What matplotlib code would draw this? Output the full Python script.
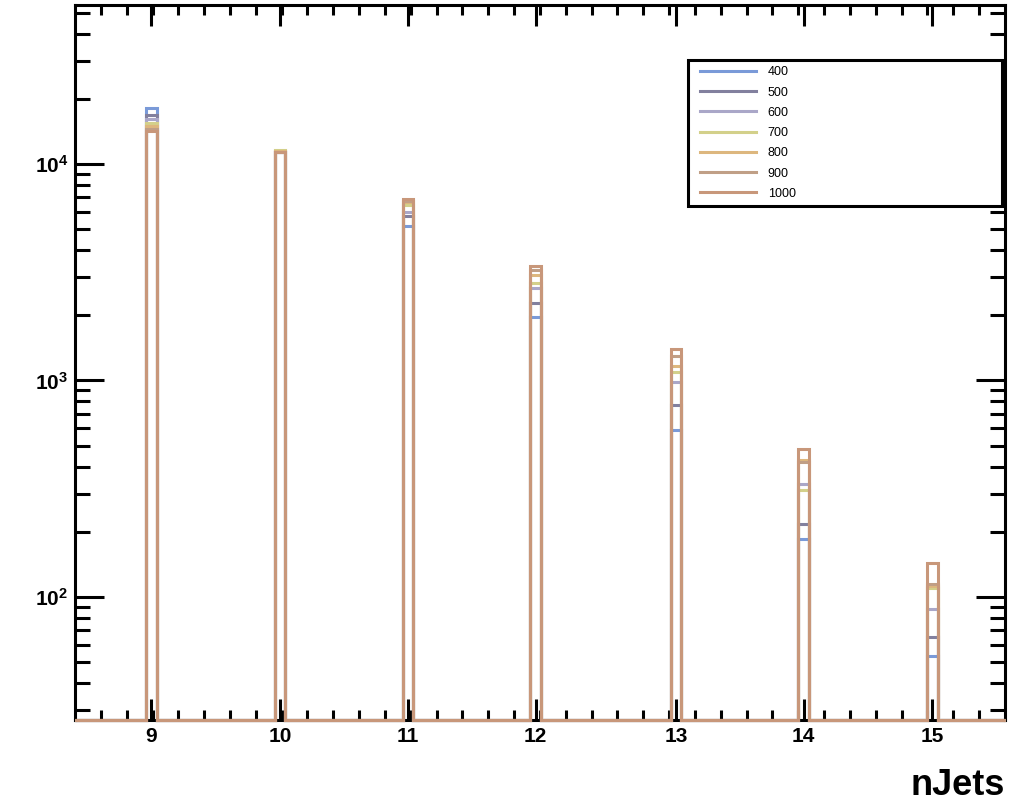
import numpy as np
import matplotlib.pyplot as plt
from matplotlib.lines import Line2D
from matplotlib.legend_handler import HandlerLine2D

plt.rcParams['font.family'] = ['Liberation Sans', 'DejaVu Sans']
plt.rcParams['mathtext.fontset'] = 'custom'
plt.rcParams['mathtext.rm'] = 'Liberation Sans'
plt.rcParams['mathtext.bf'] = 'Liberation Sans:bold'

# histogram content per mass point (nJets bins 9..15)
masses = ['400', '500', '600', '700', '800', '900', '1000']
njets = [9, 10, 11, 12, 13, 14, 15]
bin_centers = [8.990, 9.987, 10.978, 11.967, 13.053, 14.041, 15.037]
bin_width = 0.084

n400 = [18140, 11300, 5172, 1965, 591, 186, 53.2]
n500 = [16750, 11350, 5775, 2280, 770, 217, 65.3]
n600 = [16050, 11400, 5998, 2675, 981, 332.6, 88.0]
n700 = [15380, 11600, 6432, 2820, 1091, 312, 109.5]
n800 = [14890, 11450, 6650, 3071, 1163, 430.7, 111.8]
n900 = [14520, 11400, 6745, 3222, 1298, 420, 114.5]
n1000 = [14200, 11350, 6893, 3380, 1391, 480, 143.1]

colors = ['#7a9ad8', '#82809e', '#aaa7c8', '#d3d08a', '#ddb77e', '#c09f86', '#c8977a']

xmin, xmax = 8.4, 15.6
ymin, ymax = 27, 54200

fig = plt.figure(figsize=(10.11, 8.02), dpi=100)
ax = fig.add_axes([75/1011, 1-720/802, 930/1011, 715/802])

series = [n400, n500, n600, n700, n800, n900, n1000]
hw = bin_width / 2
for vals, col in zip(series, colors):
    edges = [xmin]
    heights = []
    for c, v in zip(bin_centers, vals):
        edges += [c - hw, c + hw]
        heights += [ymin, v]
    edges.append(xmax)
    heights.append(ymin)
    ax.stairs(heights, edges, color=col, lw=2.2, baseline=None, zorder=3, clip_on=False)

ax.set_yscale('log')
ax.set_xlim(xmin, xmax)
ax.set_ylim(ymin, ymax)

ax.set_xticks(bin_centers)
ax.set_xticklabels([str(n) for n in njets], fontsize=15, fontweight='bold')
ax.set_xticks(np.arange(8.6, 15.6, 0.2), minor=True)
ax.set_yticks([1e2, 1e3, 1e4])
ax.set_yticklabels([r'$\mathbf{10^{2}}$', r'$\mathbf{10^{3}}$', r'$\mathbf{10^{4}}$'], fontsize=15)
ax.yaxis.set_minor_formatter(plt.NullFormatter())

ax.tick_params(which='both', direction='in', top=True, right=True, width=2.2)
ax.tick_params(axis='x', which='major', length=15, pad=5)
ax.tick_params(axis='x', which='minor', length=7)
ax.tick_params(axis='y', which='major', length=21, pad=5)
ax.tick_params(axis='y', which='minor', length=11)
for s in ax.spines.values():
    s.set_linewidth(2.2)

fig.text(1005/1011, 1-795/802, 'nJets', ha='right', va='baseline',
         fontsize=26, fontweight='bold')

handles = [Line2D([], [], color=c, lw=2.2) for c in colors]
leg = ax.legend(handles, masses, loc='upper left', bbox_to_anchor=(0.659, 0.923, 0.338, 0),
                mode='expand', borderaxespad=0, fontsize=9, handlelength=4.94,
                handletextpad=0.95, labelspacing=0.66, borderpad=0.5,
                fancybox=False, framealpha=1,
                handler_map={Line2D: HandlerLine2D(xpad=0.44)})
leg.get_frame().set_edgecolor('black')
leg.get_frame().set_linewidth(2.2)

fig.savefig('out.png', dpi=100)
